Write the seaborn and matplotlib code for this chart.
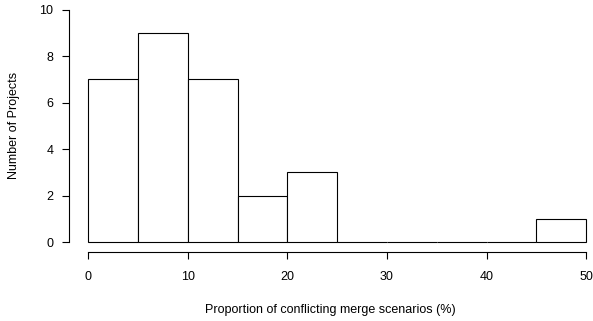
import matplotlib
matplotlib.use("Agg")
import matplotlib.pyplot as plt
import seaborn as sns
import numpy as np
import pandas as pd

bin_edges = [0, 5, 10, 15, 20, 25, 30, 35, 40, 45, 50]
counts = [7, 9, 7, 2, 3, 0, 0, 0, 0, 1]
x_ticks = [0, 10, 20, 30, 40, 50]
y_ticks = [0, 2, 4, 6, 8, 10]

sns.set_style("ticks")
plt.rcParams['font.family'] = ['Liberation Sans', 'DejaVu Sans']
plt.rcParams['text.color'] = 'black'
plt.rcParams['axes.labelcolor'] = 'black'
plt.rcParams['xtick.color'] = 'black'
plt.rcParams['ytick.color'] = 'black'
plt.rcParams['axes.edgecolor'] = 'black'

mids = [(a + b) / 2 for a, b in zip(bin_edges[:-1], bin_edges[1:])]
df = pd.DataFrame({"prop": mids, "n": counts})

fig = plt.figure(figsize=(5.93, 3.21), dpi=100)
ax = fig.add_axes([68.5 / 593, (321 - 251.5) / 321, (593 - 68.5) / 593, 251.3 / 321])

sns.histplot(data=df, x="prop", weights="n", bins=bin_edges, ax=ax,
             color="white", edgecolor="black", linewidth=0.8, alpha=1)

ax.set_xlim(-2, 50.7)
ax.set_ylim(-0.4, 10.4)
ax.set_xticks(x_ticks)
ax.set_yticks(y_ticks)
ax.spines['top'].set_visible(False)
ax.spines['right'].set_visible(False)
ax.spines['left'].set_bounds(0, 10)
ax.spines['bottom'].set_bounds(0, 50)
for s in ['left', 'bottom']:
    ax.spines[s].set_linewidth(0.8)
    ax.spines[s].set_color('black')
ax.tick_params(axis='both', length=5, width=0.8, labelsize=9, color='black', labelcolor='black')
ax.tick_params(axis='x', pad=9)
ax.tick_params(axis='y', pad=6)
ax.set_xlabel("Proportion of conflicting merge scenarios (%)", fontsize=9, labelpad=15, color='black')
ax.set_ylabel("Number of Projects", fontsize=9, labelpad=14, color='black')

fig.savefig("out.png", dpi=100)
